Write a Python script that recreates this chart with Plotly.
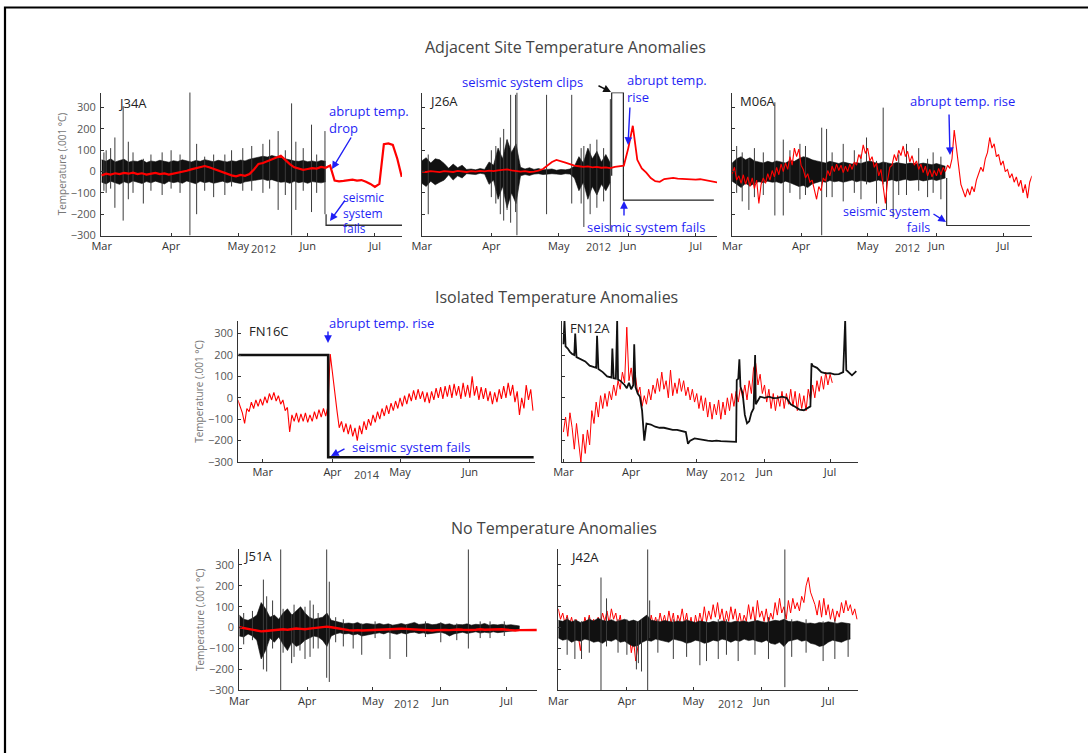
import numpy as np
import pandas as pd
import plotly.graph_objects as go

W, H = 1088, 753
BLUE = "#1f1ff5"
RED = "#ff0000"
INK = "#111111"
SPIKE = "#3c3c3c"

# ---------------------------------------------------------------- J34A (2012)
j34a_hi = [55, 48, 60, 45, 52, 58, 44, 50, 47, 55, 42, 50, 46, 53, 48, 44, 51,
           47, 55, 49, 45, 52, 48, 56, 50, 46, 53, 49, 45, 51, 47, 54, 50, 58,
           62, 66, 72, 68, 75, 70, 64, 58, 55, 50, 48, 52, 46, 50, 45, 52, 48]
j34a_lo = [-50, -58, -45, -52, -60, -48, -55, -44, -50, -56, -47, -53, -45, -50,
           -58, -46, -52, -48, -55, -44, -50, -57, -46, -52, -48, -55, -50, -45,
           -53, -47, -52, -56, -48, -45, -40, -38, -35, -42, -38, -45, -50, -48,
           -55, -46, -52, -48, -55, -47, -50, -53, -48]
j34a_spike_days = [1.0, 2.0, 4.0, 5.9, 9.6, 11.9, 14.0, 18.6, 22.0, 27.0, 31.0,
                   35.0, 39.4, 42.4, 46.0, 50.0, 55.0, 58.0, 63.0, 67.0, 72.0,
                   75.0, 78.8, 82.0, 84.8, 86.7, 90.0, 93.7, 96.0, 99.7]
j34a_spike_lo = [-90, -100, -80, -170, -230, -130, -100, -150, -90, -110, -80,
                 -100, -300, -200, -90, -120, -110, -70, -90, -90, -100, -80,
                 -180, -110, -300, -180, -90, -190, -100, -200]
j34a_spike_hi = [90, 100, 110, 160, 307, 140, 90, 60, 80, 90, 100, 80, 373,
                 130, 70, 80, 80, 100, 110, 120, 130, 150, 190, 100, 320, 140,
                 110, 220, 80, 190]
j34a_tail_days = [100.2, 100.2, 134.1]
j34a_tail_vals = [-200, -252, -252]
j34a_red = [-18, -10, -14, -8, -12, -6, -10, -5, -12, -8,
            -14, -10, -6, -12, -9, -14, -10, -6, -2, 4,
            10, 16, 22, 26, 20, 12, 4, -4, -12, -18,
            -22, -16, -20, -12, 10, 36, 40, 48, 58, 66,
            74, 55, 35, 20, 14, 8, 12, 16, 14, 22,
            18, 28, -42, -46, -44, -40, -38, -42, -40, -48,
            -58, -72, -58, 128, 132, 125, 60, -25]

# ---------------------------------------------------------------- J26A (2012)
j26a_hi = [50, 65, 40, 60, 55, 38, 15, 35, 18, 30,
           10, 12, 8, 14, 10, 45, 30, 110, 60, 150,
           90, 130, 20, 12, 18, 10, 14, 8, 10, 12,
           6, 10, 8, 12, 25, 70, 40, 110, 60, 95,
           45, 80, 40]
j26a_lo = [-55, -70, -45, -62, -50, -40, -15, -40, -20, -30,
           -10, -12, -14, -8, -12, -60, -40, -130, -70, -170,
           -100, -150, -20, -14, -18, -12, -10, -14, -12, -10,
           -12, -14, -10, -12, -30, -90, -50, -130, -70, -110,
           -60, -90, -50]
j26a_spike_days = [2.9, 31.0, 33.0, 35.0, 36.5, 38.0, 39.6, 41.8, 42.4, 55.6,
                   66.8, 71.0, 72.2, 75.0, 78.0, 81.0, 84.0]
j26a_spike_lo = [-200, -120, -150, -200, -230, -180, -240, -190, -300, -200,
                 -150, -150, -260, -200, -170, -140, -280]
j26a_spike_hi = [80, 100, 120, 160, 200, 150, 360, 360, 371, 360, 360, 110,
                 120, 130, 150, 110, 340]
j26a_tail_days = [84.6, 84.6, 89.8, 89.8, 130.1]
j26a_tail_vals = [-20, 370, 370, -134, -134]
j26a_red = [0, -2, 2, 0, -3, 2, 0, -2, 3, 0,
            -2, 2, 0, 3, 1, 4, 2, 6, 8, 10,
            6, 4, 0, 2, -2, 0, 4, 12, 30, 45,
            55, 50, 42, 35, 28, 25, 22, 24, 20, 22,
            18, 20, 16, 22, 24, 28, 110, 215, 55, 15,
            -5, -30, -45, -48, -35, -32, -30, -33, -35, -34,
            -36, -38, -36, -40, -42, -45, -52]

# ---------------------------------------------------------------- M06A (2012)
m06a_hi = [40, 60, 70, 55, 65, 50, 45, 40, 48, 42,
           50, 45, 40, 52, 48, 60, 70, 65, 55, 50,
           45, 40, 48, 42, 38, 45, 40, 35, 42, 38,
           45, 50, 42, 38, 45, 40, 36, 42, 38, 35,
           40, 38, 35, 40, 36, 32, 38, 30, 25]
m06a_lo = [-45, -60, -75, -55, -68, -55, -48, -52, -45, -50,
           -48, -55, -45, -52, -60, -70, -65, -75, -58, -50,
           -45, -50, -42, -48, -44, -50, -45, -40, -48, -42,
           -46, -50, -44, -40, -48, -42, -38, -45, -40, -36,
           -42, -40, -38, -44, -40, -36, -42, -35, -30]
m06a_spike_days = [2.0, 4.5, 7.5, 10.0, 14.0, 19.2, 23.0, 26.0, 30.5, 33.0,
                   40.3, 42.5, 45.0, 50.0, 55.0, 58.0, 60.5, 65.0, 68.0, 69.5,
                   72.5, 75.0, 78.5, 84.0, 88.0, 90.5, 94.0]
m06a_spike_lo = [-100, -140, -180, -120, -110, -206, -206, -100, -130, -110,
                 -300, -120, -120, -140, -100, -130, -60, -150, -60, -180,
                 -215, -110, -110, -90, -120, -100, -130]
m06a_spike_hi = [120, 90, 60, 110, 90, 325, 150, 100, 130, 120, 206, 200, 90,
                 130, 100, 80, 160, 50, 300, 40, 40, 80, 130, 110, 60, 90, 70]
m06a_tail_days = [96.6, 96.6, 134.1]
m06a_tail_vals = [-30, -253, -253]
m06a_red = [-10, 20, -40, -20, -55, -15, -60, -25, -70, -30,
            -80, -40, -150, -60, -30, -55, -10, -40, 5, -25,
            20, -15, 35, 0, 40, 10, 70, 30, 110, 70,
            105, 30, 10, -30, -10, -50, -40, -90, -130, -70,
            -90, -30, -45, 5, -20, 25, 0, 35, 5, 30,
            -5, 25, 0, 35, 10, 45, 30, 80, 60, 125,
            85, 110, 50, 70, 20, 40, -20, 10, -60, -150,
            -40, 20, 30, 80, 50, 100, 75, 120, 70, 95,
            45, 75, 30, 50, 10, 35, -5, 25, -20, 10,
            -25, 5, -20, 15, -15, 20, 0, 30, 15, 60,
            195, 110, 40, -60, -90, -120, -80, -110, -70, -95,
            -40, -10, 20, 0, 60, 90, 160, 110, 130, 70,
            80, 30, 50, 0, 10, -30, -10, -50, -25, -70,
            -40, -100, -60, -125, -50, -20]

# --------------------------------------------------------------- FN16C (2014)
fn16c_red_start = -11
fn16c_red = [-10, -45, -70, -120, -50, -65, -20, -50, -10, -40,
             -5, -35, 5, -25, 20, -10, 25, -15, 10, -30,
             -10, -60, -45, -160, -80, -110, -70, -115, -75, -110,
             -70, -115, -80, -110, -65, -100, -55, -90, -50, -85,
             -40, 205, 110, 20, -60, -140, -110, -160, -120, -170,
             -125, -180, -140, -200, -130, -170, -110, -150, -100, -130,
             -80, -115, -65, -100, -50, -85, -35, -75, -25, -60,
             -15, -50, 0, -40, 10, -30, 20, -15, 35, -10,
             40, -5, 30, -20, 25, -25, 30, -10, 45, 0,
             50, -5, 55, 5, 60, 0, 65, 10, 55, -5,
             70, 5, 60, 0, 100, 10, 55, -10, 50, -5,
             45, -15, 30, -30, 25, -20, 40, -5, 55, 0,
             70, 10, 60, -20, 30, -80, 0, -50, 60, -10,
             40, -60]
fn16c_blk_days = [-10.8, 29.1, 29.1, 120.3]
fn16c_blk_vals = [200, 200, -278, -278]

# --------------------------------------------------------------- FN12A (2012)
fn12a_blk_days = [0, 0.5, 1, 2, 3, 4, 5, 5.4, 6, 8, 10, 12, 14, 15, 15.4, 16,
                  18, 20, 22, 22.4, 23, 24, 24.6, 25, 26, 28, 29, 30, 31, 32,
                  32.4, 33, 34, 35, 36, 37, 38, 40, 42, 44, 46, 48, 50, 52, 54,
                  56, 57, 58, 60, 62, 64, 66, 68, 70, 72, 74, 76, 78, 79, 79.3,
                  80, 80.5, 81, 82, 83, 84, 85, 86, 87, 87.7, 88, 90, 92, 94, 96,
                  98, 100, 102, 104, 106, 108, 110, 112, 113, 113.5, 114, 116,
                  118, 120, 122, 124, 126, 128, 128.9, 129.4, 130, 132, 134]
fn12a_blk_vals = [250, 360, 240, 230, 215, 205, 200, 300, 190, 180, 170, 150,
                  145, 140, 290, 135, 120, 100, 95, 230, 92, 90, 360, 85, 80, 60,
                  45, 70, 40, 60, 250, 50, 20, 5, -60, -200, -120, -125, -135,
                  -140, -140, -145, -150, -150, -155, -160, -215, -200, -190,
                  -194, -196, -200, -202, -200, -202, -204, -205, -206, -206, 83,
                  90, 180, 52, 20, -80, -119, -110, -70, -50, 200, -30, 5, 0, 5,
                  -1, 0, 5, 0, -30, -42, -55, -58, -45, -40, 161, 150, 140, 120,
                  114, 115, 110, 111, 120, 362, 130, 125, 105, 125]
fn12a_red = [-160, -90, -180, -70, -140, -240, -120, -200, -300, -170,
             -260, -150, -220, -60, -120, -20, -90, 10, -50, 20,
             -40, 30, -10, 60, 10, 80, 40, 120, 70, 330,
             80, 140, 60, 100, 20, 50, -40, 10, -30, 40,
             -10, 60, 20, 90, 30, 120, 40, 80, 0, 130,
             10, 70, 20, 90, 30, 80, 10, 50, -10, 40,
             -20, 20, -50, 10, -60, 0, -90, -20, -100, -30,
             -80, -10, -100, -20, -80, 0, -60, 20, -40, 30,
             -20, 50, 0, 60, -10, 80, 20, 140, 160, 60,
             110, 20, 60, -20, 40, -50, 20, -60, 10, -40,
             30, -50, 20, -30, 40, -40, 30, -60, 20, -50,
             10, -60, 40, -10, 60, 0, 80, 30, 100, 40,
             120, 60, 110, 70]

# ---------------------------------------------------------------- J51A (2012)
j51a_hi = [60, 40, 35, 45, 60, 120, 90, 50, 60, 40,
           70, 90, 60, 80, 100, 70, 50, 40, 45, 50,
           70, 35, 30, 25, 20, 22, 18, 25, 15, 20,
           18, 15, 20, 14, 18, 12, 15, 20, 14, 18,
           25, 15, 18, 20, 14, 16, 22, 15, 18, 12,
           15, 14, 18, 12, 16, 14, 20, 12, 15, 13,
           16, 12, 14, 10, 8]
j51a_lo = [-40, -45, -30, -40, -60, -150, -110, -50, -70, -45,
           -80, -110, -70, -90, -80, -60, -50, -40, -45, -60,
           -90, -40, -30, -25, -30, -28, -35, -30, -40, -35,
           -30, -28, -25, -30, -22, -28, -32, -25, -30, -24,
           -22, -28, -25, -30, -28, -25, -22, -28, -40, -30,
           -25, -22, -28, -24, -20, -26, -22, -25, -20, -24,
           -22, -20, -18, -16, -12]
j51a_spike_days = [2.0, 6.0, 11.0, 12.5, 15.2, 18.9, 20.0, 23.9, 25.0, 27.7,
                   30.0, 32.3, 33.8, 36.0, 39.9, 41.1, 44.0, 47.5, 52.0, 55.9,
                   62.0, 68.8, 76.4, 85.0, 92.0, 99.3, 104.6, 110.0, 114.5,
                   121.0]
j51a_spike_lo = [-80, -60, -200, -210, -100, -300, -120, -170, -140, -110,
                 -150, -140, -100, -100, -240, -260, -70, -90, -100, -130,
                 -50, -150, -140, -45, -70, -60, -100, -50, -50, -40]
j51a_spike_hi = [70, 80, 230, 150, 130, 375, 90, 60, 110, 90, 100, 130, 110,
                 70, 375, 220, 50, 40, 20, 20, 30, 15, 15, 30, 25, 20, 375, 30,
                 30, 30]
j51a_red = [2, -2, -6, -10, -14, -18, -16, -14, -12, -10,
            -8, -10, -6, -4, -6, -8, -5, -2, 0, 3,
            5, 2, -2, -6, -10, -12, -14, -12, -14, -13,
            -12, -10, -9, -8, -6, -8, -7, -5, -6, -8,
            -9, -10, -11, -12, -14, -12, -10, -11, -12, -10,
            -9, -10, -12, -11, -10, -8, -10, -9, -8, -7,
            -8, -10, -12, -14, -12, -11, -10, -12, -11]

# ---------------------------------------------------------------- J42A (2012)
j42a_hi = [35, 30, 40, 28, 35, 25, 30, 40, 32, 45,
           35, 30, 38, 28, 34, 40, 30, 36, 28, 45,
           60, 35, 30, 28, 34, 30, 26, 32, 28, 35,
           30, 25, 32, 28, 24, 30, 26, 32, 28, 25,
           30, 28, 32, 26, 30, 34, 28, 25, 30, 35,
           32, 40, 30, 28, 32, 25, 20, 22, 18, 25,
           22, 28, 24, 20, 25, 22, 18]
j42a_lo = [-50, -60, -55, -70, -60, -65, -55, -60, -70, -65,
           -75, -60, -65, -55, -70, -65, -80, -90, -85, -70,
           -60, -65, -55, -60, -65, -70, -55, -60, -65, -75,
           -70, -60, -65, -75, -70, -60, -65, -55, -60, -70,
           -60, -65, -55, -62, -58, -65, -70, -60, -75, -80,
           -70, -90, -65, -60, -55, -65, -60, -75, -80, -90,
           -85, -70, -60, -65, -70, -60, -55]
j42a_spike_days = [4.0, 7.5, 10.5, 14.0, 19.3, 21.8, 27.0, 31.0, 35.3, 36.2,
                   37.6, 40.4, 41.3, 45.0, 52.0, 58.0, 64.0, 67.0, 72.3, 76.0,
                   81.3, 88.9, 95.0, 102.4, 105.5, 112.0, 119.7, 125.0, 131.0]
j42a_spike_lo = [-130, -150, -150, -120, -300, -90, -120, -130, -200, -170,
                 -210, -300, -50, -120, -150, -140, -180, -160, -150, -130,
                 -160, -130, -150, -285, -140, -120, -160, -150, -140]
j42a_spike_hi = [50, 40, 30, 50, 240, 140, 40, 40, 30, 30, 40, 375, 130, 40,
                 40, 40, 30, 30, 40, 40, 30, 40, 50, 375, 40, 40, 30, 40, 20]
j42a_red = [90, 40, 70, 20, 60, 10, 50, 0, 40, -30,
            -110, -20, 50, 10, 60, 0, 40, -10, 50, 20,
            70, 30, 80, 20, 90, 40, 70, 10, 60, -20,
            30, -60, -20, -120, -60, -160, -80, -20, 30, -10,
            40, 0, 60, 10, 50, 0, 70, 20, 60, 10,
            80, 20, 70, -10, 60, 30, 90, 20, 70, 0,
            50, -20, 60, 10, 70, 20, 100, 30, 80, 40,
            110, 50, 120, 40, 90, 20, 80, 30, 100, 40,
            90, 20, 70, 10, 60, 30, 110, 40, 100, 20,
            130, 50, 80, 30, 90, 20, 70, 40, 120, 60,
            140, 70, 100, 40, 130, 70, 140, 90, 120, 80,
            150, 120, 200, 240, 170, 140, 110, 60, 130, 50,
            140, 60, 110, 40, 90, 30, 80, 50, 120, 70,
            130, 80, 110, 60, 90, 40]

MONTHS_2012 = ["2012-03-01", "2012-04-01", "2012-05-01", "2012-06-01", "2012-07-01"]
MONTHS_2014 = ["2014-03-01", "2014-04-01", "2014-05-01", "2014-06-01"]
MONTH_NAMES = ["Mar", "Apr", "May", "Jun", "Jul"]
Y_TICKS = [-300, -200, -100, 0, 100, 200, 300]


def to_dates(base, days):
    return pd.Timestamp(base) + pd.to_timedelta(np.asarray(days, dtype=float), unit="D")


def refs(k):
    return ("x" if k == 1 else f"x{k}"), ("y" if k == 1 else f"y{k}")


fig = go.Figure()


def add_line(k, base, days, vals, color, width):
    xr, yr = refs(k)
    fig.add_trace(go.Scatter(x=to_dates(base, days), y=vals, mode="lines",
                             line=dict(color=color, width=width),
                             xaxis=xr, yaxis=yr, hoverinfo="skip",
                             showlegend=False))


def add_band(k, base, hi, lo, step):
    n = min(len(hi), len(lo))
    days = step * np.arange(n)
    xr, yr = refs(k)
    x = to_dates(base, days)
    fig.add_trace(go.Scatter(x=x, y=lo[:n], mode="lines",
                             line=dict(color=INK, width=0.6),
                             xaxis=xr, yaxis=yr, hoverinfo="skip",
                             showlegend=False))
    fig.add_trace(go.Scatter(x=x, y=hi[:n], mode="lines", fill="tonexty",
                             fillcolor=INK, line=dict(color=INK, width=0.6),
                             xaxis=xr, yaxis=yr, hoverinfo="skip",
                             showlegend=False))


def add_spikes(k, base, days, lo, hi):
    xs, ys = [], []
    for t, a, b in zip(to_dates(base, days), lo, hi):
        xs += [t, t, None]
        ys += [a, b, None]
    xr, yr = refs(k)
    fig.add_trace(go.Scatter(x=xs, y=ys, mode="lines",
                             line=dict(color=SPIKE, width=1),
                             xaxis=xr, yaxis=yr, hoverinfo="skip",
                             showlegend=False))


def series_days(vals, step, start=0.0):
    return start + step * np.arange(len(vals))


B12, B14 = "2012-03-01", "2014-03-01"

# J34A
add_band(1, B12, j34a_hi, j34a_lo, 2)
add_spikes(1, B12, j34a_spike_days, j34a_spike_lo, j34a_spike_hi)
add_line(1, B12, j34a_tail_days, j34a_tail_vals, "#333333", 1.3)
add_line(1, B12, series_days(j34a_red, 2), j34a_red, RED, 2.2)

# J26A
add_band(2, B12, j26a_hi, j26a_lo, 2)
add_spikes(2, B12, j26a_spike_days, j26a_spike_lo, j26a_spike_hi)
add_line(2, B12, j26a_tail_days, j26a_tail_vals, "#222222", 1.2)
add_line(2, B12, series_days(j26a_red, 2), j26a_red, RED, 1.8)

# M06A
add_band(3, B12, m06a_hi, m06a_lo, 2)
add_spikes(3, B12, m06a_spike_days, m06a_spike_lo, m06a_spike_hi)
add_line(3, B12, m06a_tail_days, m06a_tail_vals, "#333333", 1.2)
add_line(3, B12, series_days(m06a_red, 1), m06a_red, RED, 1.1)

# FN16C
add_line(4, B14, series_days(fn16c_red, 1, fn16c_red_start), fn16c_red, RED, 1.1)
add_line(4, B14, fn16c_blk_days, fn16c_blk_vals, INK, 2.6)

# FN12A
add_line(5, B12, series_days(fn12a_red, 1), fn12a_red, RED, 1.0)
add_line(5, B12, fn12a_blk_days, fn12a_blk_vals, INK, 1.8)

# J51A
add_band(6, B12, j51a_hi, j51a_lo, 2)
add_spikes(6, B12, j51a_spike_days, j51a_spike_lo, j51a_spike_hi)
add_line(6, B12, series_days(j51a_red, 2), j51a_red, RED, 2.4)

# J42A
add_line(7, B12, series_days(j42a_red, 1), j42a_red, RED, 1.0)
add_band(7, B12, j42a_hi, j42a_lo, 2)
add_spikes(7, B12, j42a_spike_days, j42a_spike_lo, j42a_spike_hi)

# panel geometry in pixels: (left, right), (top, bottom), day range, y range
panels = [
    dict(k=1, name="J34A", base=B12, px=(101, 402), py=(92.5, 235.5),
         xr=(-0.3, 134.1), yr=(-300, 371), labels=True, months=MONTHS_2012,
         year="2012", year_px=(263, 249), name_px=(117, 103)),
    dict(k=2, name="J26A", base=B12, px=(421.5, 717), py=(92.5, 235.5),
         xr=(-0.1, 131.5), yr=(-300, 371), labels=False, months=MONTHS_2012,
         year="2012", year_px=(598, 247), name_px=(428, 101)),
    dict(k=3, name="M06A", base=B12, px=(732, 1031.7), py=(92.5, 235.5),
         xr=(-0.1, 134.9), yr=(-300, 371), labels=False, months=MONTHS_2012,
         year="2012", year_px=(907, 248), name_px=(739, 101)),
    dict(k=4, name="FN16C", base=B14, px=(238.3, 535), py=(321, 462),
         xr=(-10.8, 120.9), yr=(-300, 359), labels=True, months=MONTHS_2014,
         year="2014", year_px=(367, 474), name_px=(248, 331)),
    dict(k=5, name="FN12A", base=B12, px=(562.3, 858.3), py=(321, 462),
         xr=(-0.5, 134.9), yr=(-300, 359), labels=False, months=MONTHS_2012,
         year="2012", year_px=(732, 476), name_px=(569, 328)),
    dict(k=6, name="J51A", base=B12, px=(239.3, 536.7), py=(549.3, 690.3),
         xr=(0, 135.8), yr=(-300, 375), labels=True, months=MONTHS_2012,
         year="2012", year_px=(406, 703), name_px=(242, 556)),
    dict(k=7, name="J42A", base=B12, px=(558.3, 858.3), py=(549.3, 690.3),
         xr=(0, 135.6), yr=(-300, 375), labels=False, months=MONTHS_2012,
         year="2012", year_px=(730, 703), name_px=(569, 557)),
]

FONT = "Open Sans"
annotations = []


def P(px, py):
    return px / W, 1 - py / H


def text(s, px, py, size=13, color=BLUE, anchor="center", align="left"):
    x, y = P(px, py)
    annotations.append(dict(text=s, x=x, y=y, xref="paper", yref="paper",
                            xanchor=anchor, yanchor="middle", align=align,
                            showarrow=False, borderpad=0,
                            font=dict(family=FONT, size=size, color=color)))


def arrow(head, tail, color=BLUE):
    x, y = P(*head)
    annotations.append(dict(text="", x=x, y=y, xref="paper", yref="paper",
                            ax=tail[0] - head[0], ay=tail[1] - head[1],
                            showarrow=True, arrowhead=2, arrowsize=1.1,
                            arrowwidth=1.4, arrowcolor=color, standoff=0))


layout = dict(width=W, height=H, margin=dict(l=0, r=0, t=0, b=0, pad=0),
              autosize=False,
              paper_bgcolor="white", plot_bgcolor="white", showlegend=False,
              font=dict(family=FONT, color="#333333"))

for p in panels:
    k = p["k"]
    xkey = "xaxis" if k == 1 else f"xaxis{k}"
    ykey = "yaxis" if k == 1 else f"yaxis{k}"
    xr, yr = refs(k)
    layout[xkey] = dict(
        domain=[p["px"][0] / W, p["px"][1] / W], anchor=yr, automargin=False,
        range=list(to_dates(p["base"], p["xr"])),
        tickvals=p["months"], ticktext=MONTH_NAMES[:len(p["months"])],
        ticks="inside", ticklen=3, tickcolor="#333333",
        showline=True, linecolor="#333333", linewidth=1,
        showgrid=False, zeroline=False,
        tickfont=dict(family=FONT, size=11, color="#333333"))
    ydom = [1 - p["py"][1] / H, 1 - p["py"][0] / H]
    yax = dict(
        domain=ydom, anchor=xr, range=list(p["yr"]), automargin=False,
        tickvals=Y_TICKS, ticks="inside", ticklen=3, tickcolor="#333333",
        showline=True, linecolor="#333333", linewidth=1,
        showgrid=False, zeroline=False, showticklabels=p["labels"],
        ticklabelstandoff=2,
        tickfont=dict(family=FONT, size=11, color="#555555"))
    if p["labels"]:
        yax["title"] = dict(text="Temperature (.001 °C)", standoff=2,
                            font=dict(family=FONT, size=10, color="#777777"))
    layout[ykey] = yax
    text(p["name"], p["name_px"][0], p["name_px"][1], size=13,
         color="#222222", anchor="left")
    text(p["year"], p["year_px"][0], p["year_px"][1], size=11, color="#444444")

# section headings
text("Adjacent Site Temperature Anomalies", 565, 47, size=16, color="#444444")
text("Isolated Temperature Anomalies", 556, 297, size=16, color="#444444")
text("No Temperature Anomalies", 554, 528, size=16, color="#444444")

# J34A notes
text("abrupt temp.<br>drop", 328, 119.5, anchor="left")
arrow((332, 169), (352, 136))
text("seismic<br>system<br>fails", 342, 213.5, size=12, anchor="left")
arrow((330, 221), (346, 199))

# J26A notes
text("seismic system clips", 522, 82)
arrow((611, 92), (597, 85), color="#111111")
text("abrupt temp.<br>rise", 626, 88.5, anchor="left")
arrow((628, 145), (630, 106))
text("seismic system fails", 646, 227)
arrow((624, 201), (624, 217))

# M06A notes
text("abrupt temp. rise", 962, 101)
arrow((950, 155), (949, 113))
text("seismic system<br>fails", 931, 220, size=12.5, anchor="right",
     align="right")
arrow((946, 222), (932, 213))

# FN16C notes
text("abrupt temp. rise", 381, 323)
arrow((328, 343), (328, 330))
text("seismic system fails", 411, 447)
arrow((331, 456), (346, 448))

layout["annotations"] = annotations
layout["shapes"] = [dict(type="rect", xref="paper", yref="paper",
                         x0=5 / W, x1=1.05, y0=-0.05, y1=1 - 7.5 / H,
                         line=dict(color="black", width=2.2),
                         fillcolor="rgba(0,0,0,0)")]

fig.update_layout(**layout)
fig.write_html("out.html")
